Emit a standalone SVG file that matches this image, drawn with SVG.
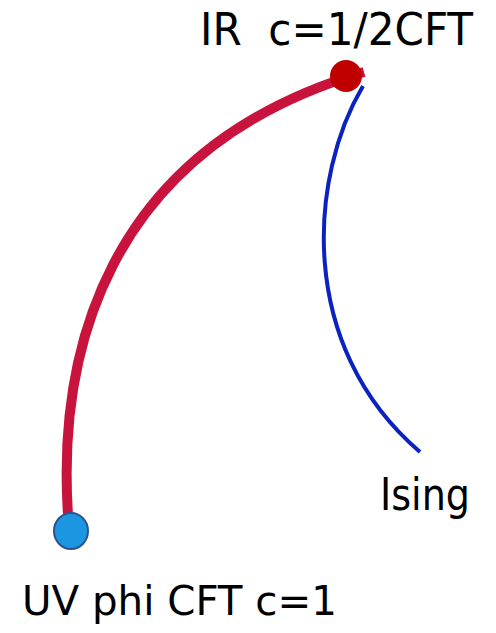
<svg xmlns="http://www.w3.org/2000/svg" width="496" height="633" viewBox="0 0 496 633">
<style>
text{font-family:"DejaVu Sans Condensed","DejaVu Sans",sans-serif;fill:#000}
</style>
<rect width="496" height="633" fill="#fff"/>
<g id="connectors" fill="none">
<path d="M68 515 C58 360,100 150,364 72" stroke="#c8143c" stroke-width="10"/>
<path d="M363 86 C310 175,295 345,420 452" stroke="#0a22c0" stroke-width="4"/>
</g>
<g id="ir">
<circle cx="346" cy="76" r="16" fill="#c00000"/>
<text x="200" y="45" font-size="44" textLength="273" lengthAdjust="spacingAndGlyphs" xml:space="preserve">IR  c=1/2CFT</text>
</g>
<g id="uv">
<ellipse cx="71" cy="531" rx="17" ry="18" fill="#1a97e0" stroke="#2f528f" stroke-width="2"/>
<text x="22" y="615" font-size="41" textLength="315" lengthAdjust="spacingAndGlyphs">UV phi CFT c=1</text>
</g>
<g id="ising">
<text x="380" y="510" font-size="44" textLength="90" lengthAdjust="spacingAndGlyphs">Ising</text>
</g>
</svg>
